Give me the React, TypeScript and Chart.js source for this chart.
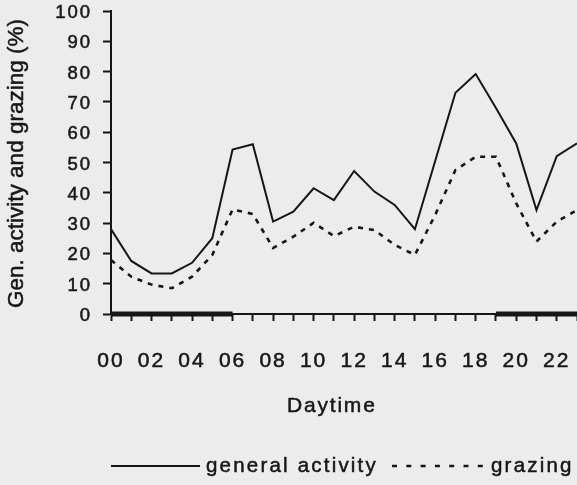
import React, { useEffect, useRef } from 'react';
import { Chart, registerables } from 'chart.js';

Chart.register(...registerables);

// ---- data ----
const hours = [0, 1, 2, 3, 4, 5, 6, 7, 8, 9, 10, 11, 12, 13, 14, 15, 16, 17, 18, 19, 20, 21, 22, 23];
const generalActivity = [28, 17.5, 13.4, 13.4, 16.9, 25, 54.3, 56, 30.5, 33.8, 41.5, 37.6, 47.2, 40.4, 36, 28, 50.5, 73, 79.2, 68, 56.3, 34.3, 52.1, 56.3];
const grazing = [17.8, 12.3, 9.7, 8.5, 12.3, 19.5, 34.5, 33, 21.8, 25.5, 30.1, 25.7, 28.8, 27.7, 22.8, 19.5, 32.7, 47.5, 51.9, 51.9, 36.5, 23.9, 30.5, 34.3];
const nightStarts = [0, 19];
const nightEnds = [6, 23];
const yTicks = [0, 10, 20, 30, 40, 50, 60, 70, 80, 90, 100];
const seriesNames = ['general activity', 'grazing'];
const xTitle = 'Daytime';
const yTitle = 'Gen. activity and grazing (%)';

const INK = '#161616';
const BG = '#ececec';
const FONT = '"Liberation Sans", Arial, sans-serif';
const SPACING = '2px';
const STROKE = 0.5;

const decorPlugin = {
  id: 'decor',
  beforeLayout(chart: any) {
    chart.ctx.letterSpacing = SPACING;
  },
  beforeDraw(chart: any) {
    const ctx = chart.ctx;
    ctx.save();
    ctx.fillStyle = BG;
    ctx.fillRect(0, 0, chart.width, chart.height);
    ctx.restore();
    ctx.letterSpacing = SPACING;
  },
  afterDraw(chart: any) {
    const ctx = chart.ctx;
    const { top, bottom } = chart.chartArea;
    ctx.save();
    ctx.fillStyle = INK;
    ctx.strokeStyle = INK;
    ctx.lineJoin = 'round';

    const text = (s: string, x: number, y: number) => {
      ctx.lineWidth = STROKE;
      ctx.strokeText(s, x, y);
      ctx.fillText(s, x, y);
    };

    // y axis title
    ctx.save();
    ctx.letterSpacing = '0px';
    ctx.font = `22.5px ${FONT}`;
    ctx.translate(17, (top + bottom) / 2 + 1);
    ctx.rotate(-Math.PI / 2);
    ctx.textAlign = 'center';
    ctx.textBaseline = 'middle';
    text(yTitle, 0, 0);
    ctx.restore();

    // x axis title
    ctx.letterSpacing = '1.8px';
    ctx.font = `21px ${FONT}`;
    ctx.textAlign = 'left';
    ctx.textBaseline = 'alphabetic';
    text(xTitle, 287, 412);

    // legend
    ctx.letterSpacing = '2.2px';
    ctx.font = `20.5px ${FONT}`;
    const ly = 466;
    ctx.lineWidth = 2;
    ctx.setLineDash([]);
    ctx.beginPath();
    ctx.moveTo(111, ly);
    ctx.lineTo(200, ly);
    ctx.stroke();
    text(seriesNames[0], 206, 472);

    ctx.lineWidth = 2.5;
    ctx.setLineDash([5, 9.3]);
    ctx.beginPath();
    ctx.moveTo(392, ly);
    ctx.lineTo(484, ly);
    ctx.stroke();
    ctx.setLineDash([]);
    text(seriesNames[1], 491, 472);
    ctx.restore();
  },
};

export default function App() {
  const ref = useRef<HTMLCanvasElement | null>(null);

  useEffect(() => {
    const canvas = ref.current;
    if (!canvas) return;
    const night = nightStarts.map((s, i) => ({
      label: 'night',
      data: [
        { x: s, y: 0 },
        { x: nightEnds[i], y: 0 },
      ],
      borderColor: INK,
      borderWidth: 5,
      pointRadius: 0,
      borderCapStyle: 'butt',
      clip: false,
      order: 0,
    }));
    const chart = new Chart(canvas, {
      type: 'line',
      data: {
        datasets: [
          {
            label: seriesNames[0],
            data: hours.map((h, i) => ({ x: h, y: generalActivity[i] })),
            borderColor: INK,
            borderWidth: 2,
            pointRadius: 0,
            tension: 0,
            fill: false,
            clip: false,
          },
          {
            label: seriesNames[1],
            data: hours.map((h, i) => ({ x: h, y: grazing[i] })),
            borderColor: INK,
            borderWidth: 2.6,
            borderDash: [5, 6],
            pointRadius: 0,
            tension: 0,
            fill: false,
            clip: false,
          },
          ...night,
        ] as any,
      },
      options: {
        animation: false,
        responsive: false,
        devicePixelRatio: 1,
        layout: { padding: { left: 0, right: 0, top: 11, bottom: 0 } },
        plugins: {
          legend: { display: false },
          tooltip: { enabled: false },
        },
        scales: {
          x: {
            type: 'linear',
            min: 0,
            max: 23,
            afterFit: (s: any) => {
              s.height = 171;
              s.paddingRight = 0;
              s.paddingLeft = 0;
            },
            grid: {
              display: true,
              drawOnChartArea: false,
              drawTicks: true,
              tickLength: 7,
              tickWidth: 2,
              tickColor: INK,
            },
            border: { display: true, color: INK, width: 2 },
            ticks: {
              stepSize: 1,
              autoSkip: false,
              maxRotation: 0,
              minRotation: 0,
              padding: 28,
              color: INK,
              textStrokeColor: INK,
              textStrokeWidth: STROKE,
              font: { family: FONT, size: 21 },
              callback: (v: any) => (Number(v) % 2 === 0 ? String(v).padStart(2, '0') : ''),
            },
          },
          y: {
            min: 0,
            max: 100,
            afterFit: (s: any) => {
              s.width = 111;
              s.paddingTop = 0;
              s.paddingBottom = 0;
            },
            afterBuildTicks: (s: any) => {
              s.ticks = yTicks.map((v) => ({ value: v }));
            },
            grid: {
              display: true,
              drawOnChartArea: false,
              drawTicks: true,
              tickLength: 8,
              tickWidth: 2,
              tickColor: INK,
            },
            border: { display: true, color: INK, width: 2 },
            ticks: {
              padding: 11,
              labelOffset: 2,
              color: INK,
              textStrokeColor: INK,
              textStrokeWidth: STROKE,
              font: { family: FONT, size: 18.5 },
            },
          },
        },
      } as any,
      plugins: [decorPlugin],
    });
    return () => chart.destroy();
  }, []);

  return (
    <div style={{ position: 'absolute', left: 0, top: 0, width: 577, height: 485, background: BG }}>
      <canvas ref={ref} width={577} height={485} style={{ display: 'block', width: 577, height: 485 }} />
    </div>
  );
}
